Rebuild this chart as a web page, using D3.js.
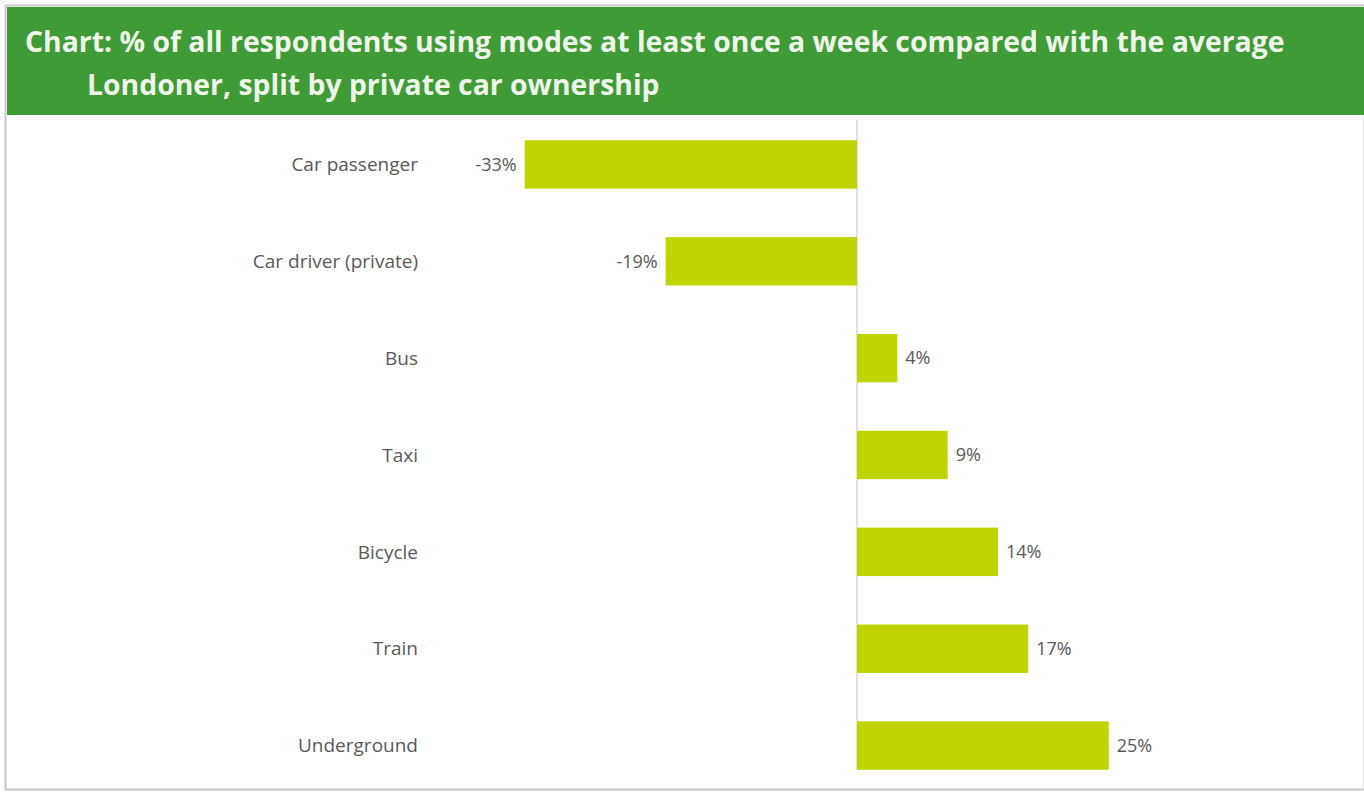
<!DOCTYPE html>
<html>
<head>
<meta charset="utf-8">
<script src="https://cdn.jsdelivr.net/npm/d3@7"></script>
<style>
  body { margin: 0; background: #fff; }
  text { font-family: "Open Sans", "Liberation Sans", sans-serif; }
</style>
</head>
<body>
<script>
var modes = ["Car passenger", "Car driver (private)", "Bus", "Taxi", "Bicycle", "Train", "Underground"];
var diffs = [-33, -19, 4, 9, 14, 17, 25];
var titleLines = ["Chart: % of all respondents using modes at least once a week compared with the average",
                  "Londoner, split by private car ownership"];

var width = 1364, height = 792;

var svg = d3.select("body")
            .append("svg")
            .attr("width", width)
            .attr("height", height);

// outer frame
svg.append("rect")
   .attr("x", 5.5).attr("y", 5.5)
   .attr("width", width - 5).attr("height", 784)
   .attr("fill", "#fff")
   .attr("stroke", "#c8c8c8")
   .attr("stroke-width", 2);

// green header
svg.append("rect")
   .attr("x", 7).attr("y", 7)
   .attr("width", width - 7).attr("height", 108)
   .attr("fill", "#3f9b35");

var title = svg.append("g");
title.append("text")
     .attr("x", 25).attr("y", 52)
     .attr("fill", "#eef8e8")
     .style("font-weight", "bold")
     .style("font-size", "26px")
     .text(titleLines[0]);
title.append("text")
     .attr("x", 87).attr("y", 95)
     .attr("fill", "#eef8e8")
     .style("font-weight", "bold")
     .style("font-size", "26px")
     .text(titleLines[1]);

// squeeze title to the reference width
var t1 = title.select("text").node();
var w1 = t1.getComputedTextLength();
title.selectAll("text").style("font-size", (26 * 1260 / w1) + "px");

var pxPerPct = 10.07;
var xScale = d3.scaleLinear()
               .domain([-40, 40])
               .range([857 - 40 * pxPerPct, 857 + 40 * pxPerPct]);

var yScale = d3.scaleBand()
               .domain(modes)
               .range([116, 794])
               .paddingInner(0.5)
               .paddingOuter(0.25);

// zero line
svg.append("line")
   .attr("x1", xScale(0)).attr("x2", xScale(0))
   .attr("y1", 120).attr("y2", 770)
   .attr("stroke", "#d9d9d9")
   .attr("stroke-width", 1.5);

svg.selectAll(".bar")
   .data(diffs)
   .enter()
   .append("rect")
   .attr("class", "bar")
   .attr("x", function(d){ return xScale(Math.min(0, d)); })
   .attr("y", function(d,i){ return yScale(modes[i]); })
   .attr("width", function(d){ return Math.abs(xScale(d) - xScale(0)); })
   .attr("height", yScale.bandwidth())
   .attr("fill", "#c0d500");

// category labels
svg.selectAll(".cat")
   .data(modes)
   .enter()
   .append("text")
   .attr("class", "cat")
   .attr("x", 418)
   .attr("y", function(d){ return yScale(d) + yScale.bandwidth()/2; })
   .attr("dy", "0.35em")
   .attr("text-anchor", "end")
   .attr("fill", "#595959")
   .style("font-size", "19px")
   .text(function(d){ return d; });

// value labels
svg.selectAll(".val")
   .data(diffs)
   .enter()
   .append("text")
   .attr("class", "val")
   .attr("x", function(d){ return d < 0 ? xScale(d) - 8 : xScale(d) + 8; })
   .attr("y", function(d,i){ return yScale(modes[i]) + yScale.bandwidth()/2; })
   .attr("dy", "0.35em")
   .attr("text-anchor", function(d){ return d < 0 ? "end" : "start"; })
   .attr("fill", "#595959")
   .style("font-size", "18px")
   .text(function(d){ return d + "%"; });
</script>
</body>
</html>
